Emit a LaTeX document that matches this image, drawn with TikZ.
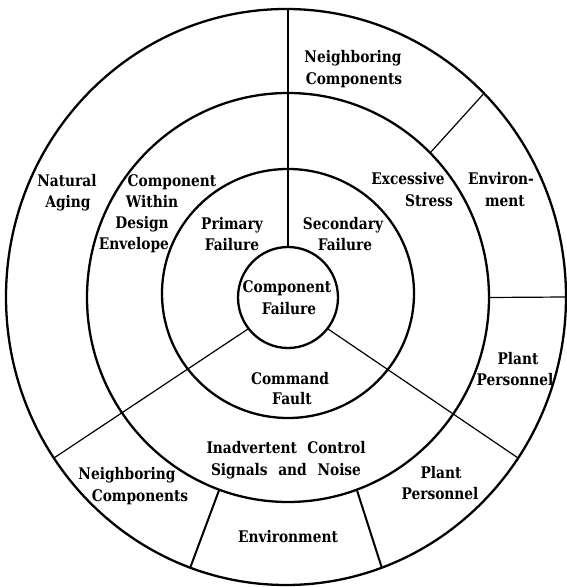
\documentclass[tikz,border=0pt]{standalone}
\usepackage{fontspec}
\setmainfont{DejaVu Serif}[FakeStretch=0.86]
\usetikzlibrary{calc}
\begin{document}
\begin{tikzpicture}[x=1pt,y=1pt,
  ring/.style={line width=2.3pt},
  spoke/.style={line width=2pt},
  thinspoke/.style={line width=1.2pt},
  lbl/.style={font=\bfseries\fontsize{16}{18}\selectfont, inner sep=0pt, anchor=base}]
\useasboundingbox (0,0) rectangle (566,587);
% centres of the four rings
\coordinate (oc) at (286,290);
\coordinate (mc) at (288,289.5);
\coordinate (ic) at (288,293.5);
\coordinate (kc) at (288,289.5);
% rings
\draw[ring] (oc) ellipse [x radius=280, y radius=288];
\draw[ring] (mc) ellipse [x radius=201, y radius=204.5];
\draw[ring] (ic) ellipse [x radius=126, y radius=124.5];
\draw[ring] (kc) ellipse [x radius=50, y radius=50.5];
% end points of the dividing lines
\coordinate (k90)  at ($(kc)+(90:50 and 50.5)$);
\coordinate (o90)  at ($(oc)+(90:280 and 288)$);
\coordinate (m45)  at ($(mc)+(45:201 and 204.5)$);
\coordinate (o45)  at ($(oc)+(45:280 and 288)$);
\coordinate (m0)   at ($(mc)+(0:201 and 204.5)$);
\coordinate (o0)   at ($(oc)+(0:280 and 288)$);
\coordinate (k218) at ($(kc)+(218:50 and 50.5)$);
\coordinate (o214) at ($(oc)+(214:280 and 288)$);
\coordinate (k322) at ($(kc)+(322:50 and 50.5)$);
\coordinate (o326) at ($(oc)+(326:280 and 288)$);
\coordinate (m250) at ($(mc)+(250:201 and 204.5)$);
\coordinate (o250) at ($(oc)+(250:280 and 288)$);
\coordinate (m290) at ($(mc)+(290:201 and 204.5)$);
\coordinate (o290) at ($(oc)+(290:280 and 288)$);
% dividing lines
\draw[spoke] (k90) -- (k90 |- o90);
\draw[thinspoke] (m45) -- (o45);
\draw[thinspoke] (m0) -- (o0);
\draw[thinspoke] (k218) -- (o214);
\draw[thinspoke] (k322) -- (o326);
\draw[spoke] (m250) -- (o250);
\draw[spoke] (m290) -- (o290);
% labels
\node[lbl] (nc1) at (353,524) {Neighboring};
\node[lbl] (nc2) at (354,502) {Components};
\node[lbl] (na1) at (67,400) {Natural};
\node[lbl] (na2) at (68,379) {Aging};
\node[lbl] (cw1) at (172,400) {Component};
\node[lbl] (cw2) at (152,379) {Within};
\node[lbl] (cw3) at (142,358) {Design};
\node[lbl] (cw4) at (134,337) {Envelope};
\node[lbl] (pf1) at (232,357) {Primary};
\node[lbl] (pf2) at (232,336) {Failure};
\node[lbl] (sf1) at (343,357) {Secondary};
\node[lbl] (sf2) at (345,336) {Failure};
\node[lbl] (es1) at (408,402) {Excessive};
\node[lbl] (es2) at (429,380) {Stress};
\node[lbl] (en1) at (501,402) {Environ-};
\node[lbl] (en2) at (505,380) {ment};
\node[lbl] (cf1) at (287,294) {Component};
\node[lbl] (cf2) at (289,272) {Failure};
\node[lbl] (pp1) at (518,222) {Plant};
\node[lbl] (pp2) at (515,201) {Personnel};
\node[lbl] (cm1) at (290,202) {Command};
\node[lbl] (cm2) at (292,182) {Fault};
\node[lbl] (ic1) at (286,133) {\makebox[159pt]{Inadvertent\hfill Control}};
\node[lbl] (ic2) at (286,111) {\makebox[150pt]{Signals\hfill and\hfill Noise}};
\node[lbl] (nb1) at (127,107) {Neighboring};
\node[lbl] (nb2) at (140,85) {Components};
\node[lbl] (ev)  at (288,44) {Environment};
\node[lbl] (pl1) at (441,108) {Plant};
\node[lbl] (pl2) at (440,87) {Personnel};
\end{tikzpicture}
\end{document}
